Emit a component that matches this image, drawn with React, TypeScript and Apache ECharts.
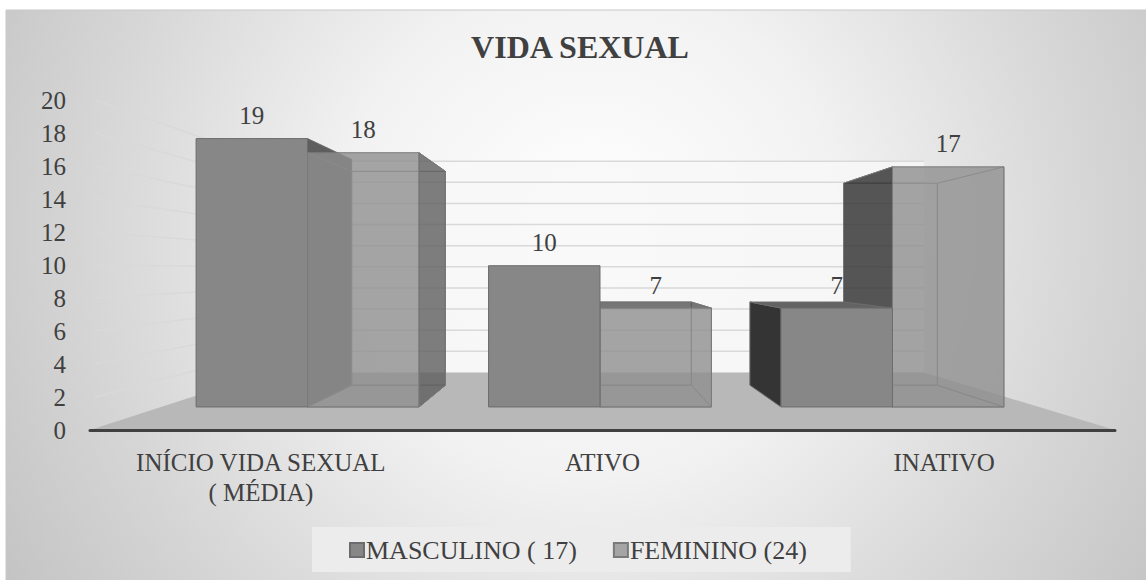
import React, { useEffect, useRef } from 'react';
import * as echarts from 'echarts';

// ---- data ----
const categories = ['INÍCIO VIDA SEXUAL\n( MÉDIA)', 'ATIVO', 'INATIVO'];
const masculino = [19, 10, 7];
const feminino = [18, 7, 17];
const seriesNames = ['MASCULINO ( 17)', 'FEMININO (24)'];
const yMin = 0;
const yMax = 20;
const yInterval = 2;
const yTicks = [2, 4, 6, 8, 10, 12, 14, 16, 18, 20];

// ---- perspective settings (style only) ----
const VP_FX = 0.483; // vanishing point, fraction of grid width
const VP_FY = 0.515; // vanishing point, fraction of grid height
const K_FRONT = 0.856;
const K_BACK = 0.72;
const K_WALL = 0.64;
const BAR_FRAC = 0.381;
const FONT = 'Liberation Serif, serif';

type BoxStyle = {
  front: string; left: string; right: string; top: string; stroke: string; translucent: boolean;
};

const mascStyle: BoxStyle = {
  front: '#878787', left: '#343434', right: '#5e5e5e', top: '#636363', stroke: '#6c6c6c', translucent: false,
};
const femStyle: BoxStyle = {
  front: 'rgba(142,142,142,0.8)', left: 'rgba(45,45,45,0.8)', right: 'rgba(94,94,94,0.8)',
  top: 'rgba(85,85,85,0.8)', stroke: '#7a7a7a', translucent: true,
};

function makeProjector(cs: any) {
  const VX = cs.x + cs.width * VP_FX;
  const VY = cs.y + cs.height * VP_FY;
  const P = (x: number, y: number, k: number) => [VX + k * (x - VX), VY + k * (y - VY)];
  return { VX, VY, P };
}

function boxRenderer(side: number, st: BoxStyle) {
  return (params: any, api: any) => {
    const i = api.value(0);
    const v = api.value(1);
    const cs = params.coordSys;
    const { VX, VY, P } = makeProjector(cs);
    const base = api.coord([i, 0]);
    const topP = api.coord([i, v]);
    const band = api.size([1, 0])[0];
    const w = band * BAR_FRAC;
    const xl = side < 0 ? base[0] - w : base[0];
    const xr = side < 0 ? base[0] : base[0] + w;
    const y0 = base[1];
    const y1 = topP[1];
    const f = (x: number, y: number) => P(x, y, K_FRONT);
    const b = (x: number, y: number) => P(x, y, K_BACK);
    const FLT = f(xl, y1), FRT = f(xr, y1), FRB = f(xr, y0), FLB = f(xl, y0);
    const BLT = b(xl, y1), BRT = b(xr, y1), BRB = b(xr, y0), BLB = b(xl, y0);
    const zc = 1000 - Math.round(Math.abs((FLT[0] + FRT[0]) / 2 - VX));
    const children: any[] = [];
    const poly = (pts: number[][], fill: string, z2: number, lw = 1) => ({
      type: 'polygon',
      z2,
      shape: { points: pts },
      style: { fill, stroke: st.stroke, lineWidth: lw },
      silent: true,
    });
    if (st.translucent) {
      children.push(poly([BLT, BRT, BRB, BLB], 'none', zc));
      children.push(poly([FLB, FRB, BRB, BLB], 'none', zc));
      children.push(poly([FLT, BLT, BLB, FLB], 'none', zc));
      children.push(poly([FRT, BRT, BRB, FRB], 'none', zc));
    }
    if (FLT[0] > VX) children.push(poly([FLT, BLT, BLB, FLB], st.left, zc + 1));
    if (FRT[0] < VX) children.push(poly([FRT, BRT, BRB, FRB], st.right, zc + 1));
    if (FLT[1] > VY) children.push(poly([FLT, FRT, BRT, BLT], st.top, zc + 1));
    children.push(poly([FLT, FRT, FRB, FLB], st.front, zc + 2));
    children.push({
      type: 'text',
      z2: 3000,
      silent: true,
      style: {
        text: String(v),
        x: (FLT[0] + FRT[0]) / 2,
        y: FLT[1] - 23,
        fill: '#404040',
        fontSize: 25,
        fontFamily: FONT,
        align: 'center',
        verticalAlign: 'middle',
      },
    });
    return { type: 'group', children };
  };
}

function wallsRenderer(params: any, api: any) {
  const cs = params.coordSys;
  const { P } = makeProjector(cs);
  const x0 = cs.x;
  const x1 = cs.x + cs.width;
  const yb = cs.y + cs.height;
  const children: any[] = [];
  const yTop = api.coord([0, yMax])[1];
  // back wall
  children.push({
    type: 'polygon', z2: 1, silent: true,
    shape: { points: [P(x0, yTop, K_WALL), P(x1, yTop, K_WALL), P(x1, yb, K_WALL), P(x0, yb, K_WALL)] },
    style: { fill: 'rgba(248,248,248,0.8)', stroke: 'none' },
  });
  // gridlines
  yTicks.forEach((t) => {
    const y = api.coord([0, t])[1];
    const a = P(x0, y, K_WALL);
    const c = P(x1, y, K_WALL);
    children.push({
      type: 'line', z2: 3, silent: true,
      shape: { x1: a[0], y1: a[1], x2: c[0], y2: c[1] },
      style: { stroke: '#d9d9d9', lineWidth: 1.5 },
    });
    children.push({
      type: 'line', z2: 3, silent: true,
      shape: { x1: x0 + 5, y1: y, x2: a[0], y2: a[1] },
      style: { stroke: '#d9d9d9', lineWidth: 1.5 },
    });
  });
  // floor
  children.push({
    type: 'polygon', z2: 5, silent: true,
    shape: { points: [[x0, yb], [x1, yb], P(x1, yb, K_WALL), P(x0, yb, K_WALL)] },
    style: { fill: '#b8b8b8', stroke: 'none' },
  });
  return { type: 'group', children };
}

export default function App() {
  const ref = useRef<HTMLDivElement>(null);
  useEffect(() => {
    if (!ref.current) return;
    const chart = echarts.init(ref.current, null, { renderer: 'svg' });
    chart.setOption({
      animation: false,
      graphic: [
        {
          type: 'rect', z: -10, silent: true,
          shape: { x: 6, y: 10, width: 1150, height: 580 },
          style: {
            fill: {
              type: 'radial', x: 590, y: 230, r: 700, global: true,
              colorStops: [
                { offset: 0, color: '#ffffff' },
                { offset: 0.35, color: '#f2f2f2' },
                { offset: 0.7, color: '#d7d7d7' },
                { offset: 1, color: '#c2c2c2' },
              ],
            },
            stroke: '#c8c8c8', lineWidth: 1,
          },
        },
      ],
      title: {
        text: 'VIDA SEXUAL',
        left: 580,
        top: 31,
        padding: 0,
        textAlign: 'center',
        textStyle: { fontSize: 32, fontWeight: 'bold', fontFamily: FONT, color: '#404040' },
      },
      legend: {
        data: seriesNames,
        left: 312,
        top: 527,
        padding: [10, 44, 9, 37],
        itemGap: 36,
        itemWidth: 14,
        itemHeight: 14,
        icon: 'rect',
        backgroundColor: '#ececec',
        textStyle: { fontSize: 26, fontFamily: FONT, color: '#404040', padding: [0, 0, 0, -3] },
      },
      grid: { left: 90, right: 31, top: 100, bottom: 150 },
      xAxis: {
        type: 'category',
        data: categories,
        z: 10,
        axisTick: { show: false },
        axisLine: { lineStyle: { color: '#404040', width: 3 } },
        axisLabel: { fontSize: 25, fontFamily: FONT, color: '#404040', lineHeight: 30, margin: 17 },
      },
      yAxis: {
        type: 'value',
        min: yMin,
        max: yMax,
        interval: yInterval,
        axisLine: { show: false },
        axisTick: { show: false },
        splitLine: { show: false },
        axisLabel: { fontSize: 25, fontFamily: FONT, color: '#404040', margin: 24 },
      },
      series: [
        {
          type: 'custom', name: 'walls', silent: true,
          renderItem: wallsRenderer,
          data: [[0, 0]],
        },
        {
          type: 'custom', name: seriesNames[0], silent: true,
          itemStyle: { color: '#878787', borderColor: '#6c6c6c', borderWidth: 1 },
          renderItem: boxRenderer(-1, mascStyle),
          data: masculino.map((v, i) => [i, v]),
        },
        {
          type: 'custom', name: seriesNames[1], silent: true,
          itemStyle: { color: '#a5a5a5', borderColor: '#7a7a7a', borderWidth: 1 },
          renderItem: boxRenderer(1, femStyle),
          data: feminino.map((v, i) => [i, v]),
        },
      ],
    });
    return () => chart.dispose();
  }, []);
  return <div ref={ref} style={{ position: 'absolute', left: 0, top: 0, width: 1146, height: 580 }} />;
}
